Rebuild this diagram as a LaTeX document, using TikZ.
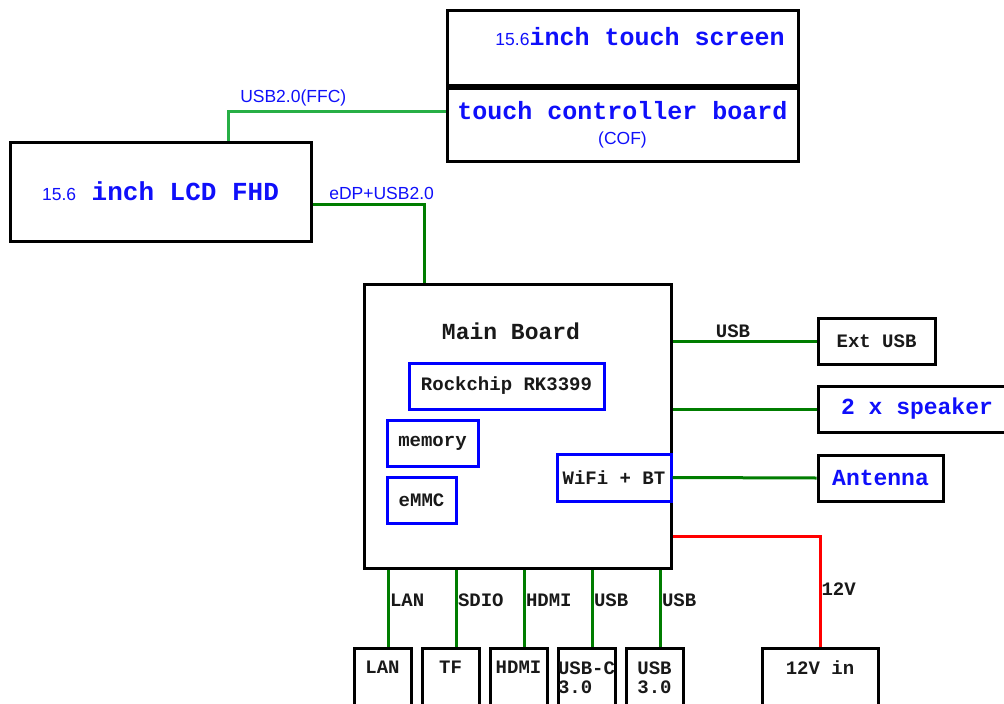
\documentclass[tikz,border=0pt]{standalone}
\usepackage{fontspec}
\setmainfont{Liberation Sans}
\setmonofont{Liberation Mono}
\usepackage{xcolor}
\usepackage{tikz}
\usetikzlibrary{positioning, calc}
\definecolor{wiregreen}{RGB}{0,125,0}
\definecolor{ffcgreen}{RGB}{40,175,70}
\definecolor{chipblue}{RGB}{0,0,255}
\definecolor{textblue}{RGB}{15,15,250}
\definecolor{textdark}{RGB}{25,25,25}
\newcommand{\smallmono}{\ttfamily\bfseries\fontsize{19}{22}\selectfont}
\newcommand{\bigmono}{\ttfamily\bfseries\fontsize{23}{27}\selectfont}
\newcommand{\screenmono}{\ttfamily\bfseries\fontsize{25}{27}\selectfont}
\newcommand{\lcdmono}{\ttfamily\bfseries\fontsize{26}{30}\selectfont}
\newcommand{\wirefont}{\rmfamily\mdseries\fontsize{17.5}{20}\selectfont}
\tikzset{
    hwbox/.style={rectangle, draw=black, line width=3pt, inner sep=0pt, text=textdark, font=\smallmono},
    chipbox/.style={hwbox, draw=chipblue},
    screenbox/.style={hwbox, text=textblue, font=\screenmono},
    portbox/.style={hwbox, minimum width=57pt, minimum height=59pt},
    onelinebox/.style={text depth=20pt},
    wire/.style={line width=3pt, color=wiregreen},
    ffcwire/.style={wire, color=ffcgreen},
    pwrwire/.style={wire, color=red},
    wirelabel/.style={font=\smallmono, text=textdark, inner sep=2pt},
    sanslabel/.style={font=\wirefont, text=textblue, inner sep=3pt}
}

\begin{document}
\begin{tikzpicture}[x=1pt, y=-1pt]
    \useasboundingbox (0,0) rectangle (1004,704);
    \clip (0,0) rectangle (1004,704);

    % touch panel
    \node (screen) [screenbox, minimum width=351pt, minimum height=75pt] at (622.5,47.5) {};
    \node (screentxt) [font=\screenmono, text=textblue, inner sep=0pt] at (640,37) {{\wirefont 15.6}inch touch screen};
    \node (ctrl) [screenbox, align=center, minimum width=351pt, minimum height=73pt, below=0pt of screen] {touch controller board\\[-2pt]{\wirefont (COF)}};

    % display
    \node (lcd) [screenbox, font=\lcdmono, minimum width=301pt, minimum height=99pt] at (160.5,191.5) {{\wirefont 15.6} inch LCD FHD};

    % main board
    \node (main) [hwbox, minimum width=307pt, minimum height=284pt] at (517.5,426) {};
    \node (mbtitle) [font=\bigmono, text=textdark] at (511,331) {Main Board};
    \node (soc) [chipbox, minimum width=195pt, minimum height=46pt] at (506.5,386) {Rockchip RK3399};
    \node (mem) [chipbox, minimum width=91pt, minimum height=46pt] at (432.5,443) {memory};
    \node (emmc) [chipbox, minimum width=69pt, minimum height=46pt, below right=8pt and 0pt of mem.south west] {eMMC};
    \node (wifi) [chipbox, anchor=east, minimum width=114pt, minimum height=47pt] at (main.east |- 0,477.5) {WiFi + BT};

    % peripherals
    \node (extusb) [hwbox, minimum width=117pt, minimum height=46pt] at (876.5,341) {Ext USB};
    \node (spk) [hwbox, font=\bigmono, text=textblue, minimum width=198pt, minimum height=46pt] at (917,409) {2 x speaker};
    \node (ant) [hwbox, font=\bigmono, text=textblue, minimum width=125pt, minimum height=46pt] at (880.5,478) {Antenna};
    \node (pwrin) [portbox, onelinebox, minimum width=116pt] at (820,677.5) {12V in};

    % ports
    \node (lan) [portbox, onelinebox] at (382.5,677.5) {LAN};
    \node (tf) [portbox, onelinebox, right=8pt of lan] {TF};
    \node (hdmi) [portbox, onelinebox, right=8pt of tf] {HDMI};
    \node (usbc) [portbox, align=left, right=8pt of hdmi] {USB-C\\[-3pt]3.0};
    \node (usba) [portbox, align=center, right=8pt of usbc] {USB\\[-3pt]3.0};

    % links
    \draw [ffcwire] ([xshift=67.5pt]lcd.north) |- node[pos=0.65, above, sanslabel] {USB2.0(FFC)} ([yshift=13.5pt]ctrl.west);
    \draw [wire] ([yshift=-12.5pt]lcd.east) -| node[pos=0.31, above, sanslabel] {eDP+USB2.0} ([xshift=-93.5pt]main.north);
    \draw [wire] (main.east |- extusb.west) -- node[pos=0.42, above, wirelabel] {USB} (extusb.west);
    \draw [wire] (main.east |- spk.west) -- (spk.west);
    \draw [wire] (wifi.east) -- (ant.west);
    \draw [pwrwire] ([yshift=33pt]main.south east) -| node[pos=0.74, right, wirelabel, inner sep=0pt] {12V} (pwrin.north);

    \draw [wire] ([xshift=6pt]lan.north) -- node[pos=0.6, anchor=west, wirelabel, inner sep=0pt] {LAN} ([xshift=6pt]lan.north |- main.south);
    \draw [wire] ([xshift=6pt]tf.north) -- node[pos=0.6, anchor=west, wirelabel, inner sep=0pt] {SDIO} ([xshift=6pt]tf.north |- main.south);
    \draw [wire] ([xshift=6pt]hdmi.north) -- node[pos=0.6, anchor=west, wirelabel, inner sep=0pt] {HDMI} ([xshift=6pt]hdmi.north |- main.south);
    \draw [wire] ([xshift=6pt]usbc.north) -- node[pos=0.6, anchor=west, wirelabel, inner sep=0pt] {USB} ([xshift=6pt]usbc.north |- main.south);
    \draw [wire] ([xshift=6pt]usba.north) -- node[pos=0.6, anchor=west, wirelabel, inner sep=0pt] {USB} ([xshift=6pt]usba.north |- main.south);
\end{tikzpicture}
\end{document}
